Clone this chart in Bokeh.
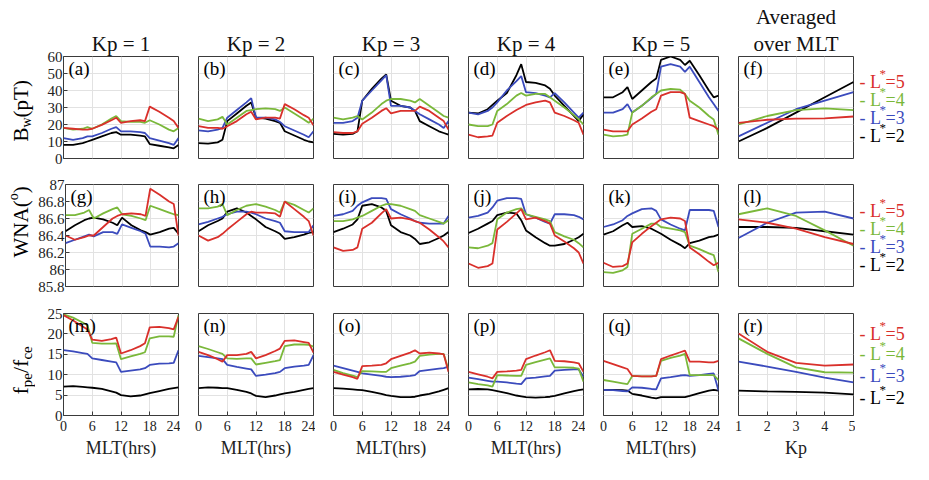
import math
from bokeh.plotting import figure
from bokeh.models import Range1d, LinearAxis, FixedTicker, Label, Grid, Title
from bokeh.layouts import column, row
from bokeh.embed import file_html
from bokeh.resources import INLINE

# ---------------- data ----------------
MLT = [0, 2, 4, 5, 6, 8, 10, 11, 12, 14, 16, 17, 18, 20, 22, 23, 24]
KP = [1, 2, 3, 4, 5]

# Row 1: B_w (pT)
a_L5 = [18, 17.5, 17, 17, 17.5, 19.8, 22.5, 24, 21, 22, 22.5, 22, 30.5, 27.5, 24, 22, 18]
a_L4 = [18, 17, 17.5, 18.5, 17.5, 20, 23.5, 25, 22, 21.5, 21.5, 21, 22.5, 20, 17, 16, 18]
a_L3 = [12, 11, 12, 13, 13, 15, 17.5, 18.5, 16, 16, 15.5, 15, 12, 10.5, 9, 8, 12]
a_L2 = [8, 8, 9, 10, 11, 13, 15, 15.5, 14, 14, 13.5, 13, 8.5, 7.5, 6.5, 6, 8]

b_L5 = [19, 18, 18, 17.5, 19, 22, 26, 27.5, 23, 24, 24, 23.5, 32, 29, 25.5, 24, 19.5]
b_L4 = [23.5, 22, 23, 24.5, 20, 24, 28, 28.5, 29, 29.5, 29, 28, 30, 26.5, 23, 21, 23.5]
b_L3 = [16.5, 16, 17, 18, 24, 28.5, 33, 35.5, 24, 24, 23, 21.5, 19, 16.5, 14, 12.5, 16]
b_L2 = [9, 8.8, 9.5, 11, 22, 26.5, 31, 33, 24, 23.5, 22, 21, 16, 13.5, 11, 10, 9.5]

c_L5 = [15.5, 15, 15, 16, 20.5, 24, 28, 29.6, 26.5, 28, 28, 28, 30.5, 28, 24, 22, 17]
c_L4 = [24, 23, 24, 25, 23, 27, 32, 34, 35, 35, 34, 33, 35, 31, 27, 25, 24]
c_L3 = [21, 21, 22, 24, 34, 40, 46, 49, 31, 31, 30, 28, 26, 23, 20, 18, 22]
c_L2 = [14.5, 14, 14.5, 16, 34, 41, 47, 49.5, 34, 31, 30, 28, 22, 19, 16, 15, 14]

d_L5 = [14, 12.5, 13, 13.5, 21, 25, 28.5, 30, 31.5, 33, 34, 33, 27, 25, 22.5, 21, 14]
d_L4 = [20, 19, 19, 20, 28, 32, 37, 38.5, 37, 38, 38, 36, 34, 30, 25.5, 23, 20]
d_L3 = [27, 26, 28, 30, 33, 40, 45.5, 48.5, 39, 38.5, 37, 36, 38.5, 33, 27, 24, 27]
d_L2 = [27, 26.5, 29, 31.5, 34, 38.5, 49, 55.5, 45, 44.5, 43, 41, 37, 31, 25, 22, 26]

e_L5 = [17, 16, 16, 16, 20, 23.5, 27.5, 29, 37, 39, 39, 38, 24, 22, 20, 19, 17]
e_L4 = [14, 13, 13.5, 14, 27, 31, 36, 38, 40, 41, 40.5, 38, 34, 30, 25, 23, 14]
e_L3 = [27, 27, 29, 32, 27, 31, 35.5, 38, 54, 55.5, 54, 51, 54, 45, 36, 32, 28]
e_L2 = [36, 36, 39, 42, 35, 40, 45, 47, 58, 60, 58, 55, 57.5, 49, 40, 36, 37]

f_L5 = [21, 22.8, 23.5, 23.6, 24.7]
f_L4 = [20, 25, 28.5, 29.5, 28.5]
f_L3 = [13, 21, 29, 34, 39]
f_L2 = [10, 18, 27, 36, 45]

# Row 2: WNA (deg)
g_L5 = [86.40, 86.35, 86.38, 86.40, 86.40, 86.50, 86.60, 86.63, 86.65, 86.66, 86.65, 86.63, 86.95, 86.88, 86.80, 86.77, 86.40]
g_L4 = [86.64, 86.64, 86.67, 86.70, 86.60, 86.66, 86.71, 86.73, 86.65, 86.63, 86.60, 86.58, 86.75, 86.71, 86.67, 86.65, 86.64]
g_L3 = [86.31, 86.35, 86.39, 86.41, 86.39, 86.44, 86.44, 86.42, 86.53, 86.49, 86.45, 86.42, 86.27, 86.27, 86.26, 86.27, 86.31]
g_L2 = [86.45, 86.52, 86.58, 86.60, 86.61, 86.59, 86.55, 86.52, 86.61, 86.52, 86.46, 86.44, 86.41, 86.44, 86.48, 86.49, 86.42]

h_L5 = [86.40, 86.34, 86.38, 86.42, 86.47, 86.56, 86.65, 86.68, 86.67, 86.67, 86.66, 86.62, 86.80, 86.71, 86.62, 86.57, 86.40]
h_L4 = [86.72, 86.72, 86.74, 86.77, 86.64, 86.70, 86.75, 86.76, 86.77, 86.74, 86.70, 86.67, 86.80, 86.76, 86.70, 86.67, 86.72]
h_L3 = [86.53, 86.56, 86.60, 86.62, 86.65, 86.68, 86.68, 86.67, 86.65, 86.60, 86.57, 86.55, 86.45, 86.44, 86.44, 86.44, 86.52]
h_L2 = [86.45, 86.52, 86.57, 86.60, 86.68, 86.72, 86.67, 86.63, 86.59, 86.50, 86.45, 86.42, 86.36, 86.38, 86.41, 86.43, 86.44]

i_L5 = [86.26, 86.22, 86.23, 86.26, 86.48, 86.55, 86.66, 86.71, 86.60, 86.61, 86.59, 86.57, 86.55, 86.47, 86.38, 86.33, 86.26]
i_L4 = [86.57, 86.57, 86.59, 86.61, 86.63, 86.69, 86.75, 86.77, 86.77, 86.75, 86.71, 86.69, 86.64, 86.60, 86.56, 86.54, 86.58]
i_L3 = [86.63, 86.65, 86.69, 86.75, 86.79, 86.84, 86.84, 86.83, 86.71, 86.65, 86.60, 86.57, 86.55, 86.54, 86.54, 86.54, 86.63]
i_L2 = [86.44, 86.48, 86.53, 86.59, 86.75, 86.77, 86.73, 86.69, 86.52, 86.44, 86.40, 86.36, 86.30, 86.32, 86.37, 86.40, 86.44]

j_L5 = [86.07, 86.02, 86.04, 86.07, 86.47, 86.56, 86.66, 86.71, 86.59, 86.61, 86.57, 86.54, 86.40, 86.33, 86.25, 86.20, 86.07]
j_L4 = [86.26, 86.25, 86.28, 86.31, 86.59, 86.67, 86.71, 86.72, 86.65, 86.62, 86.59, 86.57, 86.44, 86.39, 86.35, 86.31, 86.26]
j_L3 = [86.61, 86.63, 86.67, 86.73, 86.81, 86.84, 86.84, 86.83, 86.65, 86.61, 86.56, 86.54, 86.65, 86.65, 86.64, 86.62, 86.59]
j_L2 = [86.43, 86.48, 86.54, 86.57, 86.64, 86.67, 86.66, 86.58, 86.46, 86.38, 86.31, 86.28, 86.28, 86.30, 86.35, 86.38, 86.42]

k_L5 = [86.08, 86.03, 86.04, 86.07, 86.32, 86.42, 86.51, 86.55, 86.59, 86.61, 86.60, 86.57, 86.26, 86.18, 86.09, 86.05, 86.08]
k_L4 = [85.97, 85.96, 85.99, 86.03, 86.42, 86.48, 86.54, 86.54, 86.50, 86.48, 86.46, 86.44, 86.28, 86.24, 86.19, 86.17, 85.97]
k_L3 = [86.50, 86.53, 86.58, 86.63, 86.66, 86.71, 86.72, 86.69, 86.59, 86.53, 86.48, 86.46, 86.70, 86.70, 86.70, 86.69, 86.50]
k_L2 = [86.41, 86.45, 86.52, 86.55, 86.50, 86.51, 86.48, 86.45, 86.42, 86.35, 86.29, 86.25, 86.31, 86.34, 86.38, 86.39, 86.41]

l_L5 = [86.59, 86.55, 86.48, 86.38, 86.30]
l_L4 = [86.65, 86.72, 86.63, 86.46, 86.28]
l_L3 = [86.37, 86.55, 86.67, 86.68, 86.60]
l_L2 = [86.50, 86.50, 86.49, 86.45, 86.41]

# Row 3: f_pe / f_ce
m_L5 = [24.6, 23.3, 21.8, 21.1, 18.6, 18.3, 18.7, 19.1, 15.2, 16.0, 17.0, 17.7, 21.6, 21.7, 21.4, 21.1, 24.2]
m_L4 = [24.8, 24.0, 22.8, 22.1, 17.8, 17.6, 17.6, 17.7, 13.8, 14.5, 15.1, 15.5, 18.9, 19.4, 19.4, 19.3, 24.6]
m_L3 = [16.0, 15.7, 15.3, 15.1, 14.0, 13.6, 13.2, 13.0, 10.7, 11.0, 11.3, 11.6, 12.4, 12.7, 12.8, 12.9, 16.0]
m_L2 = [7.1, 7.2, 7.0, 6.9, 6.8, 6.5, 5.9, 5.6, 5.0, 4.7, 4.9, 5.2, 5.5, 6.0, 6.5, 6.7, 6.9]

n_L5 = [15.6, 14.8, 13.8, 13.2, 14.8, 14.8, 15.1, 15.6, 14.0, 14.8, 15.8, 16.4, 18.3, 18.4, 18.0, 17.8, 15.4]
n_L4 = [17.0, 16.3, 15.5, 15.1, 14.0, 13.9, 14.0, 14.0, 12.5, 12.9, 13.3, 13.6, 17.0, 17.4, 17.4, 17.3, 16.9]
n_L3 = [14.6, 14.3, 14.0, 13.8, 12.4, 11.9, 11.5, 11.3, 9.7, 10.0, 10.4, 10.7, 11.6, 12.0, 12.2, 12.4, 14.8]
n_L2 = [6.7, 6.9, 6.8, 6.7, 6.7, 6.3, 5.8, 5.4, 4.8, 4.5, 4.9, 5.2, 5.4, 5.8, 6.3, 6.5, 6.7]

o_L5 = [10.7, 10.0, 9.4, 9.0, 12.1, 12.2, 12.4, 12.8, 13.8, 14.6, 15.4, 16.0, 15.2, 15.4, 15.2, 15.0, 10.7]
o_L4 = [11.2, 10.4, 9.8, 9.4, 10.9, 10.8, 10.7, 10.7, 11.6, 12.2, 12.8, 13.2, 14.6, 14.9, 15.1, 15.1, 11.2]
o_L3 = [12.2, 11.6, 11.0, 10.7, 10.3, 10.0, 9.7, 9.5, 9.4, 9.5, 9.7, 9.9, 10.9, 11.2, 11.5, 11.6, 12.0]
o_L2 = [6.7, 6.6, 6.4, 6.3, 6.2, 5.8, 5.3, 5.0, 4.8, 4.5, 4.5, 4.6, 4.9, 5.3, 5.9, 6.3, 6.7]

p_L5 = [10.7, 10.1, 9.5, 9.1, 10.7, 10.8, 11.0, 11.2, 13.8, 14.7, 15.5, 16.0, 13.4, 13.3, 13.0, 12.8, 10.7]
p_L4 = [8.1, 7.7, 7.4, 7.1, 9.9, 9.8, 9.7, 9.7, 12.4, 13.1, 13.7, 14.0, 11.8, 11.8, 11.7, 11.5, 8.3]
p_L3 = [9.3, 8.9, 8.5, 8.3, 8.3, 8.1, 7.8, 7.7, 9.1, 9.3, 9.6, 9.7, 11.0, 11.2, 11.3, 11.3, 9.5]
p_L2 = [6.4, 6.5, 6.4, 6.2, 6.0, 5.5, 4.9, 4.7, 4.5, 4.4, 4.5, 4.6, 4.8, 5.4, 6.0, 6.2, 6.4]

q_L5 = [13.4, 12.6, 11.8, 11.4, 9.7, 9.6, 9.6, 9.7, 13.8, 14.7, 15.5, 15.9, 13.2, 13.2, 13.0, 13.0, 13.4]
q_L4 = [8.7, 8.3, 7.9, 7.7, 9.7, 9.6, 9.6, 9.7, 13.4, 14.1, 14.7, 15.1, 9.9, 9.9, 9.9, 9.9, 8.7]
q_L3 = [6.3, 6.2, 6.0, 5.9, 6.9, 6.8, 6.5, 6.4, 9.1, 9.4, 9.8, 9.9, 9.7, 9.9, 10.2, 10.3, 6.1]
q_L2 = [6.3, 6.3, 6.2, 6.1, 5.3, 4.9, 4.4, 4.2, 4.5, 4.5, 4.5, 4.5, 4.8, 5.5, 6.1, 6.3, 6.1]

r_L5 = [20.1, 15.6, 12.9, 12.2, 12.5]
r_L4 = [18.9, 15.1, 11.8, 10.6, 10.5]
r_L3 = [13.2, 12.0, 10.7, 9.3, 8.1]
r_L2 = [6.1, 5.9, 5.8, 5.6, 5.2]

TITLES = ["Kp = 1", "Kp = 2", "Kp = 3", "Kp = 4", "Kp = 5"]
AVG_TITLE = ["Averaged", "over MLT"]
MLT_TICKS = [0, 6, 12, 18, 24]
KP_TICKS = [1, 2, 3, 4, 5]
Y_RANGES = [(0, 60), (85.8, 87), (0, 25)]
Y_TICKS = [[0, 10, 20, 30, 40, 50, 60],
           [85.8, 86.0, 86.2, 86.4, 86.6, 86.8, 87.0],
           [0, 5, 10, 15, 20, 25]]
Y_TICK_TEXT = [None,
               {85.8: "85.8", 86.0: "86", 86.2: "86.2", 86.4: "86.4", 86.6: "86.6", 86.8: "86.8", 87.0: "87"},
               None]
L_VALUES = [5, 4, 3, 2]

PANELS = [
    [("(a)", MLT, [a_L5, a_L4, a_L3, a_L2]), ("(b)", MLT, [b_L5, b_L4, b_L3, b_L2]),
     ("(c)", MLT, [c_L5, c_L4, c_L3, c_L2]), ("(d)", MLT, [d_L5, d_L4, d_L3, d_L2]),
     ("(e)", MLT, [e_L5, e_L4, e_L3, e_L2]), ("(f)", KP, [f_L5, f_L4, f_L3, f_L2])],
    [("(g)", MLT, [g_L5, g_L4, g_L3, g_L2]), ("(h)", MLT, [h_L5, h_L4, h_L3, h_L2]),
     ("(i)", MLT, [i_L5, i_L4, i_L3, i_L2]), ("(j)", MLT, [j_L5, j_L4, j_L3, j_L2]),
     ("(k)", MLT, [k_L5, k_L4, k_L3, k_L2]), ("(l)", KP, [l_L5, l_L4, l_L3, l_L2])],
    [("(m)", MLT, [m_L5, m_L4, m_L3, m_L2]), ("(n)", MLT, [n_L5, n_L4, n_L3, n_L2]),
     ("(o)", MLT, [o_L5, o_L4, o_L3, o_L2]), ("(p)", MLT, [p_L5, p_L4, p_L3, p_L2]),
     ("(q)", MLT, [q_L5, q_L4, q_L3, q_L2]), ("(r)", KP, [r_L5, r_L4, r_L3, r_L2])],
]

# ---------------- style ----------------
SERIF = "Liberation Serif"
COLORS = {5: "#d9302b", 4: "#7ab83a", 3: "#3b4bbd", 2: "#000000"}
FW, FH = 115, 102
YLAB_W, LEG_W = 35, 74
EM = {"B": .667, "w": .722, "(": .333, ")": .333, "p": .5, "T": .611, "W": .944,
      "N": .722, "A": .722, "o": .5, "f": .333, "e": .444, "c": .444, "/": .278,
      "L": .611, "-": .333, " ": .25, "=": .564, "*": .5}
TOPS = [56, 13, 13]
BOTTOMS = [13, 14, 65]


def tw(s, size):
    return sum(EM.get(ch, 0.5) for ch in s) * size


def lab(p, x, y, text, size, color="black", angle=0.0, align="left", baseline="middle"):
    p.add_layout(Label(x=x, y=y, x_units="screen", y_units="screen", text=text,
                       angle=angle, text_align=align, text_baseline=baseline,
                       text_font=SERIF, text_font_size=f"{size}px", text_color=color))


def blank(width, r):
    p = figure(width=width, height=TOPS[r] + FH + BOTTOMS[r], x_range=Range1d(0, 1),
               y_range=Range1d(0, 1), x_axis_location=None, y_axis_location=None,
               toolbar_location=None, tools="", output_backend="svg", title=None,
               min_border_left=0, min_border_right=0,
               min_border_top=TOPS[r], min_border_bottom=BOTTOMS[r])
    p.outline_line_color = None
    p.center = [rr for rr in p.center if not isinstance(rr, Grid)]
    p.background_fill_color = "white"
    p.border_fill_color = "white"
    return p


# y label pieces: (text, size, x shift)
YLAB = [
    (17, [("B", 21, 0), ("w", 14, 6), ("(pT)", 21, 0)]),
    (29, [("WNA(", 21, 0), ("o", 14, -7), (")", 21, 0)]),
    (21, [("f", 22, 0), ("pe", 15, 6), ("/", 22, 0), ("f", 22, 0), ("ce", 15, 6)]),
]
YLAB_X = 20
LEG_Y = [[77, 59, 41, 23], [76, 58, 40, 22], [82, 62, 40, 18]]

rows = []
for r in range(3):
    figs = []
    # y-axis label strip
    yl = blank(YLAB_W, r)
    y0, pieces = YLAB[r]
    yy = y0
    for text, size, dx in pieces:
        lab(yl, YLAB_X + dx, yy, text, size, angle=math.pi / 2)
        yy += tw(text, size)
    figs.append(yl)

    for c in range(6):
        name, xs, series = PANELS[r][c]
        left = 63 - YLAB_W if c == 0 else 18
        right = 2
        top = TOPS[r]
        bottom = BOTTOMS[r]
        xr = Range1d(1, 5) if c == 5 else Range1d(0, 24)
        yr = Range1d(*Y_RANGES[r])
        p = figure(width=left + FW + right, height=top + FH + bottom,
                   x_range=xr, y_range=yr, x_axis_location=None, y_axis_location=None,
                   toolbar_location=None, tools="", output_backend="svg", title=None,
                   min_border_left=left, min_border_right=right,
                   min_border_top=top, min_border_bottom=bottom)
        p.background_fill_color = "white"
        p.border_fill_color = "white"
        p.outline_line_color = "#3a3a3a"
        p.outline_line_width = 1
        p.center = [rr for rr in p.center if not isinstance(rr, Grid)]
        xt = KP_TICKS if c == 5 else MLT_TICKS
        p.add_layout(Grid(dimension=0, ticker=FixedTicker(ticks=xt),
                          grid_line_color="#e2e2e2", grid_line_width=1), "center")
        p.add_layout(Grid(dimension=1, ticker=FixedTicker(ticks=Y_TICKS[r]),
                          grid_line_color="#e2e2e2", grid_line_width=1), "center")

        for L, ys in reversed(list(zip(L_VALUES, series))):
            p.line(xs, ys, line_color=COLORS[L], line_width=1.8)

        if c == 0:
            ax = LinearAxis(ticker=FixedTicker(ticks=Y_TICKS[r]))
            if Y_TICK_TEXT[r]:
                ax.major_label_overrides = Y_TICK_TEXT[r]
            ax.major_label_text_font = SERIF
            ax.major_label_text_font_size = "15px"
            ax.major_label_text_color = "#222222"
            ax.major_label_standoff = 1
            ax.major_tick_in = 4
            ax.major_tick_out = 0
            ax.minor_tick_line_color = None
            ax.axis_line_color = None
            ax.major_tick_line_color = "#3a3a3a"
            p.add_layout(ax, "left")

        if r == 2:
            bx = LinearAxis(ticker=FixedTicker(ticks=xt))
            bx.major_label_text_font = SERIF
            bx.major_label_text_font_size = "14px"
            bx.major_label_text_color = "#222222"
            bx.major_label_standoff = 5
            bx.major_tick_in = 4
            bx.major_tick_out = 0
            bx.minor_tick_line_color = None
            bx.axis_line_color = None
            bx.major_tick_line_color = "#3a3a3a"
            bx.axis_label = "Kp" if c == 5 else "MLT(hrs)"
            bx.axis_label_text_font = SERIF
            bx.axis_label_text_font_style = "normal"
            bx.axis_label_text_font_size = "18px"
            bx.axis_label_text_color = "#222222"
            bx.axis_label_standoff = 4
            p.add_layout(bx, "below")

        # panel letter
        lab(p, 5, FH - 12, name, 19)

        # titles
        if r == 0:
            near = TITLES[c] if c < 5 else AVG_TITLE[1]
            p.add_layout(Title(text=near, align="center", text_font=SERIF,
                               text_font_size="21px", text_font_style="normal",
                               text_color="#111111", standoff=2), "above")
            if c == 5:
                p.add_layout(Title(text=AVG_TITLE[0], align="center", text_font=SERIF,
                                   text_font_size="21px", text_font_style="normal",
                                   text_color="#111111", standoff=0), "above")
        figs.append(p)

    # legend strip
    lg = blank(LEG_W, r)
    x0 = 4
    for L, y in zip(L_VALUES, LEG_Y[r]):
        col = COLORS[L]
        lab(lg, x0, y, "- L", 18, color=col)
        lab(lg, x0 + 20, y + 8, "*", 13, color=col)
        lab(lg, x0 + 26, y, f"={L}", 18, color=col)
    figs.append(lg)
    rows.append(row(*figs))

layout = column(*rows)
open("out.html", "w").write(file_html(layout, INLINE))
